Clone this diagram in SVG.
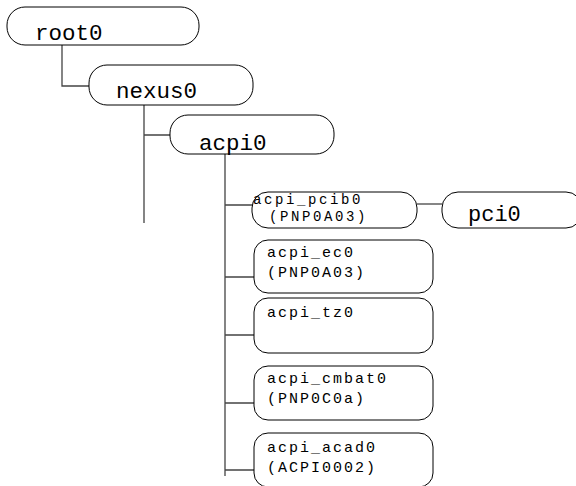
<svg xmlns="http://www.w3.org/2000/svg" width="576" height="486" viewBox="0 0 576 486">
<style>
.box{fill:#fff;stroke:#000;stroke-width:1}
.big{font-family:"Liberation Mono","Courier New",monospace;font-size:22.5px;fill:#000}
.sm{font-family:"Liberation Mono","Courier New",monospace;font-size:15px;letter-spacing:2px;fill:#000}
.tiny{font-family:"Liberation Mono","Courier New",monospace;font-size:14px;letter-spacing:2.6px;fill:#000}
.pc{font-family:"Liberation Mono","Courier New",monospace;font-size:22px;fill:#000}
.ln{stroke:#444;stroke-width:1.3;fill:none}
</style>
<rect width="576" height="486" fill="#fff"/>
<g id="connectors">
<path class="ln" d="M62 45V86H90"/>
<path class="ln" d="M144 105V223M144 135H170"/>
<path class="ln" d="M225 154V476M225 205H253M225 277H254M225 335H254M225 403H254M225 470H254"/>
<path class="ln" d="M417 204H442"/>
</g>
<g id="root0"><rect class="box" x="7" y="7" width="192" height="38" rx="18"/><text class="big" x="35" y="40">root0</text></g>
<g id="nexus0"><rect class="box" x="89" y="65" width="164" height="40" rx="18"/><text class="big" x="116" y="98">nexus0</text></g>
<g id="acpi0"><rect class="box" x="170" y="115" width="164" height="39" rx="18"/><text class="big" x="199" y="150">acpi0</text></g>
<g id="acpi_pcib0"><rect class="box" x="252" y="192" width="165" height="36" rx="16"/><text class="tiny" x="253" y="204">acpi_pcib0</text><text class="tiny" x="269" y="221">(PNP0A03)</text></g>
<g id="pci0"><rect class="box" x="442" y="192" width="140" height="36" rx="16"/><text class="pc" x="468" y="221">pci0</text></g>
<g id="acpi_ec0"><rect class="box" x="254" y="240" width="179" height="53" rx="14"/><text class="sm" x="267" y="257">acpi_ec0</text><text class="sm" x="267" y="277">(PNP0A03)</text></g>
<g id="acpi_tz0"><rect class="box" x="254" y="298" width="179" height="55" rx="14"/><text class="sm" x="267" y="317">acpi_tz0</text></g>
<g id="acpi_cmbat0"><rect class="box" x="254" y="366" width="179" height="54" rx="14"/><text class="sm" x="267" y="383">acpi_cmbat0</text><text class="sm" x="267" y="403">(PNP0C0a)</text></g>
<g id="acpi_acad0"><rect class="box" x="254" y="433" width="179" height="54" rx="14"/><text class="sm" x="267" y="452">acpi_acad0</text><text class="sm" x="267" y="472">(ACPI0002)</text></g>
</svg>
